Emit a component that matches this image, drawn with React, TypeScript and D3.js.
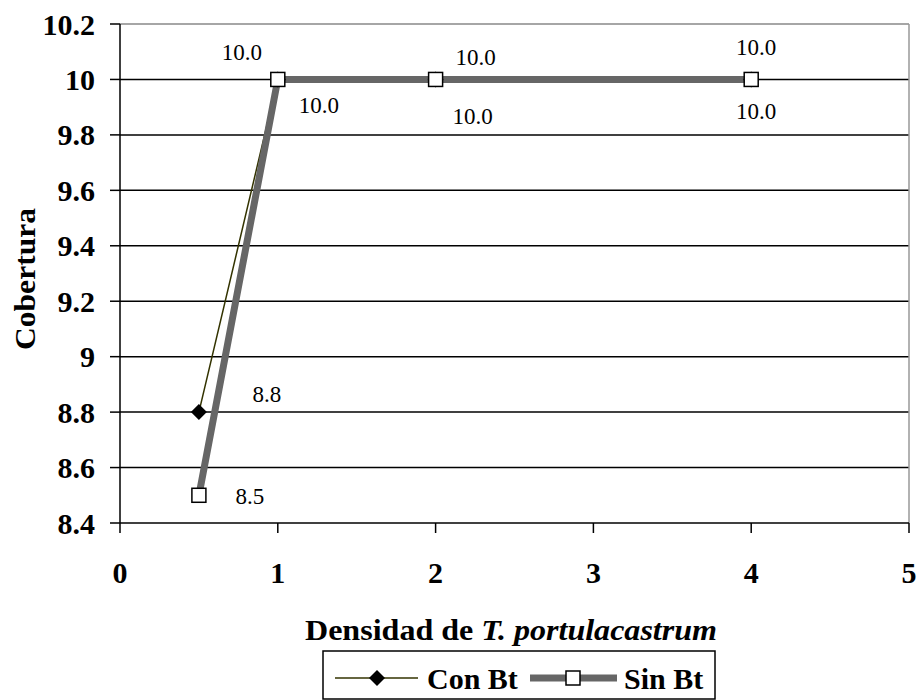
import React from "react";
import * as d3 from "d3";

const xValues = [0.5, 1, 2, 4];
const conBt = [8.8, 10, 10, 10];
const sinBt = [8.5, 10, 10, 10];
const xTicks = [0, 1, 2, 3, 4, 5];
const yTicks = [8.4, 8.6, 8.8, 9.0, 9.2, 9.4, 9.6, 9.8, 10.0, 10.2];
const yTickLabels = ["8.4", "8.6", "8.8", "9", "9.2", "9.4", "9.6", "9.8", "10", "10.2"];
const conLabels = ["8.8", "10.0", "10.0", "10.0"];
const sinLabels = ["8.5", "10.0", "10.0", "10.0"];

// label offsets (px) from their data point, layout only
const conOffsets = [[68, -18], [-36, -27], [37, 37], [5, 32]];
const sinOffsets = [[51, 1], [41, 26], [40, -22], [5, -32]];

const W = 921;
const H = 700;
const left = 120, right = 909, top = 24, bottom = 523;

export default function App() {
  const x = d3.scaleLinear().domain([0, 5]).range([left, right]);
  const y = d3.scaleLinear().domain([8.4, 10.2]).range([bottom, top]);
  const line = d3
    .line<number>()
    .x((_, i) => x(xValues[i]))
    .y((d) => y(d));
  const serif =
    '"Liberation Serif", "Times New Roman", Times, Tinos, "Noto Serif", "DejaVu Serif", FreeSerif, serif';
  const diamond = (cx: number, cy: number, r: number) =>
    `M${cx},${cy - r}L${cx + r},${cy}L${cx},${cy + r}L${cx - r},${cy}Z`;
  const ts = { fontFamily: serif };

  return (
    <svg
      width={W}
      height={H}
      style={{ position: "absolute", left: 0, top: 0, background: "#fff", fontFamily: serif }}
    >
      {yTicks.slice(1, -1).map((t) => (
        <line key={t} x1={left} x2={right} y1={y(t)} y2={y(t)} stroke="#000" strokeWidth={1.5} />
      ))}
      <line x1={left} x2={right} y1={top} y2={top} stroke="#888" strokeWidth={1.5} />
      <line x1={right} x2={right} y1={top} y2={bottom} stroke="#999" strokeWidth={1.5} />
      <line x1={left} x2={left} y1={top} y2={bottom} stroke="#000" strokeWidth={1.5} />
      <line x1={left} x2={right} y1={bottom} y2={bottom} stroke="#000" strokeWidth={1.5} />
      {yTicks.map((t, i) => (
        <g key={t}>
          <line x1={left - 10} x2={left} y1={y(t)} y2={y(t)} stroke="#000" strokeWidth={1.5} />
          <text x={95} y={y(t)} dy="0.35em" textAnchor="end" fontSize={30} fontWeight="bold" style={ts}>
            {yTickLabels[i]}
          </text>
        </g>
      ))}
      {xTicks.map((t) => (
        <g key={t}>
          <line x1={x(t)} x2={x(t)} y1={bottom} y2={bottom + 10} stroke="#000" strokeWidth={1.5} />
          <text x={x(t)} y={583} textAnchor="middle" fontSize={30} fontWeight="bold" style={ts}>
            {t}
          </text>
        </g>
      ))}
      <path d={line(conBt) || ""} fill="none" stroke="#333300" strokeWidth={1.5} />
      <path d={line(sinBt) || ""} fill="none" stroke="#666666" strokeWidth={7} />
      {conBt.map((v, i) => (
        <path key={"cd" + i} d={diamond(x(xValues[i]), y(v), 8)} fill="#000" />
      ))}
      {sinBt.map((v, i) => (
        <rect
          key={"sr" + i}
          x={x(xValues[i]) - 7}
          y={y(v) - 7}
          width={14}
          height={14}
          fill="#fff"
          stroke="#000"
          strokeWidth={1.5}
        />
      ))}
      {conBt.map((v, i) => (
        <text
          key={"cl" + i}
          x={x(xValues[i]) + conOffsets[i][0]}
          y={y(v) + conOffsets[i][1]}
          dy="0.35em"
          textAnchor="middle"
          fontSize={23}
          style={ts}
        >
          {conLabels[i]}
        </text>
      ))}
      {sinBt.map((v, i) => (
        <text
          key={"sl" + i}
          x={x(xValues[i]) + sinOffsets[i][0]}
          y={y(v) + sinOffsets[i][1]}
          dy="0.35em"
          textAnchor="middle"
          fontSize={23}
          style={ts}
        >
          {sinLabels[i]}
        </text>
      ))}
      <text
        transform="translate(35,279) rotate(-90)"
        textAnchor="middle"
        fontSize={30}
        fontWeight="bold"
        textLength={142}
        lengthAdjust="spacingAndGlyphs"
        style={ts}
      >
        Cobertura
      </text>
      <text
        x={511}
        y={640}
        textAnchor="middle"
        fontSize={30}
        fontWeight="bold"
        textLength={412}
        lengthAdjust="spacingAndGlyphs"
        style={ts}
      >
        Densidad de <tspan fontStyle="italic">T. portulacastrum</tspan>
      </text>
      <rect x={323} y={651} width={392} height={48} fill="#fff" stroke="#000" strokeWidth={1.5} />
      <line x1={335} x2={418} y1={678} y2={678} stroke="#333300" strokeWidth={1.5} />
      <path d={diamond(377, 678, 8)} fill="#000" />
      <text x={427} y={689} fontSize={30} fontWeight="bold" style={ts}>
        Con Bt
      </text>
      <line x1={530} x2={617} y1={678} y2={678} stroke="#666666" strokeWidth={7} />
      <rect x={566} y={671} width={14} height={14} fill="#fff" stroke="#000" strokeWidth={1.5} />
      <text x={624} y={689} fontSize={30} fontWeight="bold" style={ts}>
        Sin Bt
      </text>
    </svg>
  );
}
